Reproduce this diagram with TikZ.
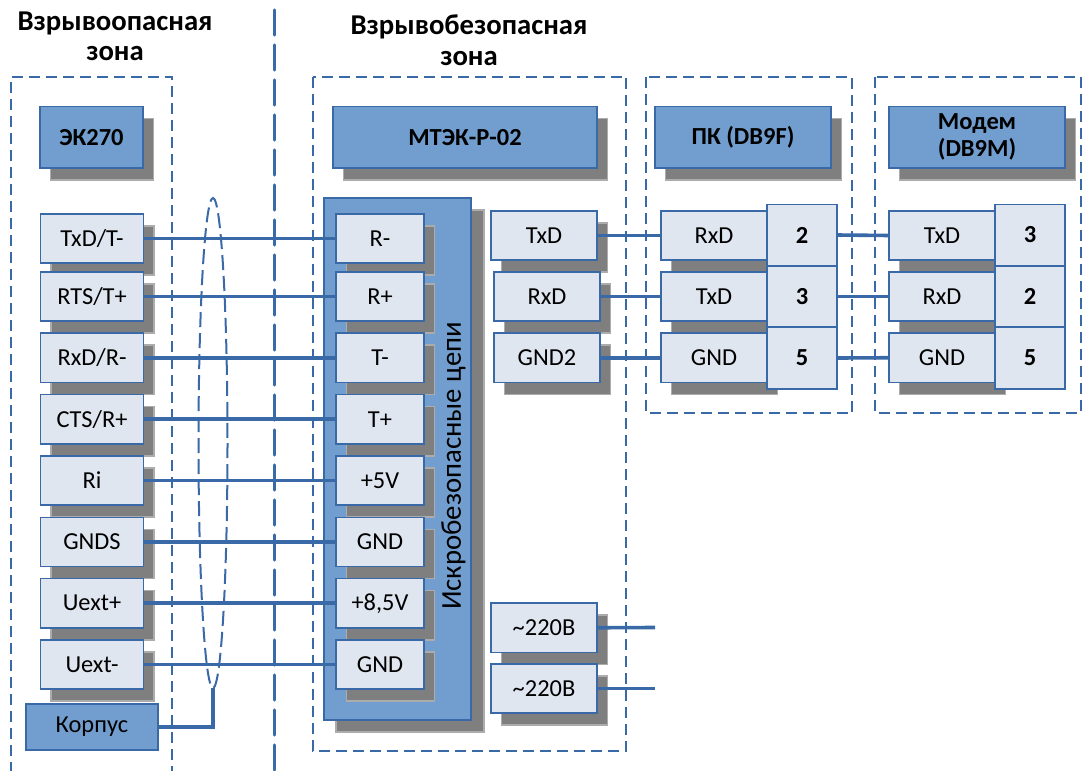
\documentclass[tikz,border=0pt]{standalone}
\usepackage{fontspec}
\setmainfont{Carlito}
\usetikzlibrary{shapes.geometric}
\definecolor{ln}{HTML}{3A69A8}
\definecolor{pf}{HTML}{719ECF}
\definecolor{lf}{HTML}{DFE6F0}
\definecolor{sh}{HTML}{7F7F7F}
\tikzset{
 x=1pt,y=-1pt,
 zonebox/.style={draw=ln,line width=2pt,dash pattern=on 11pt off 6pt},
 wire/.style={draw=ln,line width=3.6pt},
 base/.style={inner sep=0pt,outer sep=0pt,align=center,font=\fontsize{24.4}{26}\selectfont,text=black},
 light/.style={base,fill=lf,draw=ln,line width=1.4pt},
 dark/.style={base,fill=pf,draw=ln,line width=1.4pt},
 headtext/.style={font=\fontsize{24.5}{27}\bfseries\selectfont},
 titletext/.style={font=\fontsize{28.7}{30.5}\bfseries\selectfont},
}
\newcommand{\shd}[4]{\fill[sh,draw=sh!65,line width=1.3pt] (#1+10.5,#2+12) rectangle (#3+10.5,#4+12);}
\newcommand{\nbx}[7]{\node[#1,minimum width=#5-#3,minimum height=#6-#4] (#2) at ({(#3+#5)/2},{(#4+#6)/2}) {#7};}
\newcommand{\bx}[7]{\shd{#3}{#4}{#5}{#6}\nbx{#1}{#2}{#3}{#4}{#5}{#6}{#7}}
\begin{document}
\begin{tikzpicture}
\useasboundingbox (0,0) rectangle (1087,771);
\fill[white] (0,0) rectangle (1087,771);
\begin{scope}
\clip (0,0) rectangle (1087,771);
\draw[zonebox] (11,790) -- (11,76.5) -- (172,76.5) -- (172,790);
\draw[zonebox] (312.5,76.5) rectangle (626,750.5);
\draw[zonebox] (646,76.5) rectangle (852,413);
\draw[zonebox] (875,76.5) rectangle (1080.5,413);
\draw[draw=ln,line width=3.2pt,dash pattern=on 25pt off 10pt,line cap=round] (274.5,10) -- (274.5,790);
\end{scope}
% titles
\node[base,titletext] (t1) at (115,36.5) {Взрывоопасная\\зона};
\node[base,titletext] (t2) at (469,40) {Взрывобезопасная\\зона};
% heads
\bx{dark,headtext}{h1}{40}{106.5}{143}{168}{ЭК270}
\bx{dark,headtext}{h2}{333}{106.5}{597}{168}{МТЭК-Р-02}
\bx{dark,headtext}{h3}{655}{106.5}{831}{168}{ПК (DB9F)}
\bx{dark,headtext}{h4}{889}{106.5}{1065}{168}{Модем\\(DB9M)}
% left column
\bx{light}{a1}{40.5}{214}{143.5}{263}{TxD/T-}
\bx{light}{a2}{40.5}{272}{143.5}{321}{RTS/T+}
\bx{light}{a3}{40.5}{333}{143.5}{382.5}{RxD/R-}
\bx{light}{a4}{40.5}{394.5}{143.5}{444}{CTS/R+}
\bx{light}{a5}{40.5}{456}{143.5}{505}{Ri}
\bx{light}{a6}{40.5}{517.5}{143.5}{566.5}{GNDS}
\bx{light}{a7}{40.5}{578.5}{143.5}{628}{Uext+}
\bx{light}{a8}{40.5}{640}{143.5}{689}{Uext-}
\nbx{dark}{k}{26}{704}{158}{750}{Корпус}
% panel
\fill[sh,draw=sh!65,line width=1.3pt] (336,210) rectangle (484,732);
\nbx{dark}{p}{324}{198}{471}{720}{}
\bx{light}{b1}{336}{214}{424}{263}{R-}
\bx{light}{b2}{336}{272}{424}{321}{R+}
\bx{light}{b3}{336}{333}{424}{382.5}{T-}
\bx{light}{b4}{336}{394.5}{424}{444}{T+}
\bx{light}{b5}{336}{456}{424}{505}{+5V}
\bx{light}{b6}{336}{517.5}{424}{566.5}{GND}
\bx{light}{b7}{336}{578.5}{424}{628}{+8,5V}
\bx{light}{b8}{336}{640}{424}{689}{GND}
\node[base,rotate=90,font=\fontsize{28.8}{30}\selectfont] (pt) at (453.5,466) {Искробезопасные цепи};
% right of panel
\bx{light}{c1}{491}{211}{597}{260}{TxD}
\bx{light}{c2}{494}{272}{600}{321}{RxD}
\bx{light}{c3}{494}{333}{600}{382.5}{GND2}
\bx{light}{c4}{491}{603}{597}{652.5}{\textasciitilde 220В}
\bx{light}{c5}{491}{664}{597}{713}{\textasciitilde 220В}
% PC
\bx{light}{d1}{661}{211}{767}{260}{RxD}
\bx{light}{d2}{661}{272}{767}{321}{TxD}
\bx{light}{d3}{661}{333}{767}{382.5}{GND}
\nbx{light,headtext}{e1}{767}{204.5}{837}{265.5}{2}
\nbx{light,headtext}{e2}{767}{266}{837}{327}{3}
\nbx{light,headtext}{e3}{767}{327}{837}{389}{5}
% Modem
\bx{light}{f1}{889}{211}{995}{260}{TxD}
\bx{light}{f2}{889}{272}{995}{321}{RxD}
\bx{light}{f3}{889}{333}{995}{382.5}{GND}
\nbx{light,headtext}{g1}{995}{204.5}{1065}{265.5}{3}
\nbx{light,headtext}{g2}{995}{266}{1065}{327}{2}
\nbx{light,headtext}{g3}{995}{327}{1065}{389}{5}
% cable ellipse
\coordinate (ebb) at (213,688);
\draw[draw=ln,line width=2pt,dash pattern=on 15pt off 6pt] (213,443) ellipse [x radius=14.5,y radius=245];
% wires
\foreach \n in {1,...,8} {\draw[wire] (a\n.east) -- (b\n.west);}
\draw[wire] (c1.east) -- (d1.west);
\draw[wire] (c2.east) -- (d2.west);
\draw[wire] (c3.east) -- (d3.west);
\draw[wire] (e1.east) -- (f1.west);
\draw[wire] (e2.east) -- (f2.west);
\draw[wire] (e3.east) -- (f3.west);
\coordinate (o1) at (655,627.5);
\coordinate (o2) at (655,688.5);
\draw[wire] (c4.east) -- (o1);
\draw[wire] (c5.east) -- (o2);
\draw[wire] (k.east) -| (ebb);
\end{tikzpicture}
\end{document}
